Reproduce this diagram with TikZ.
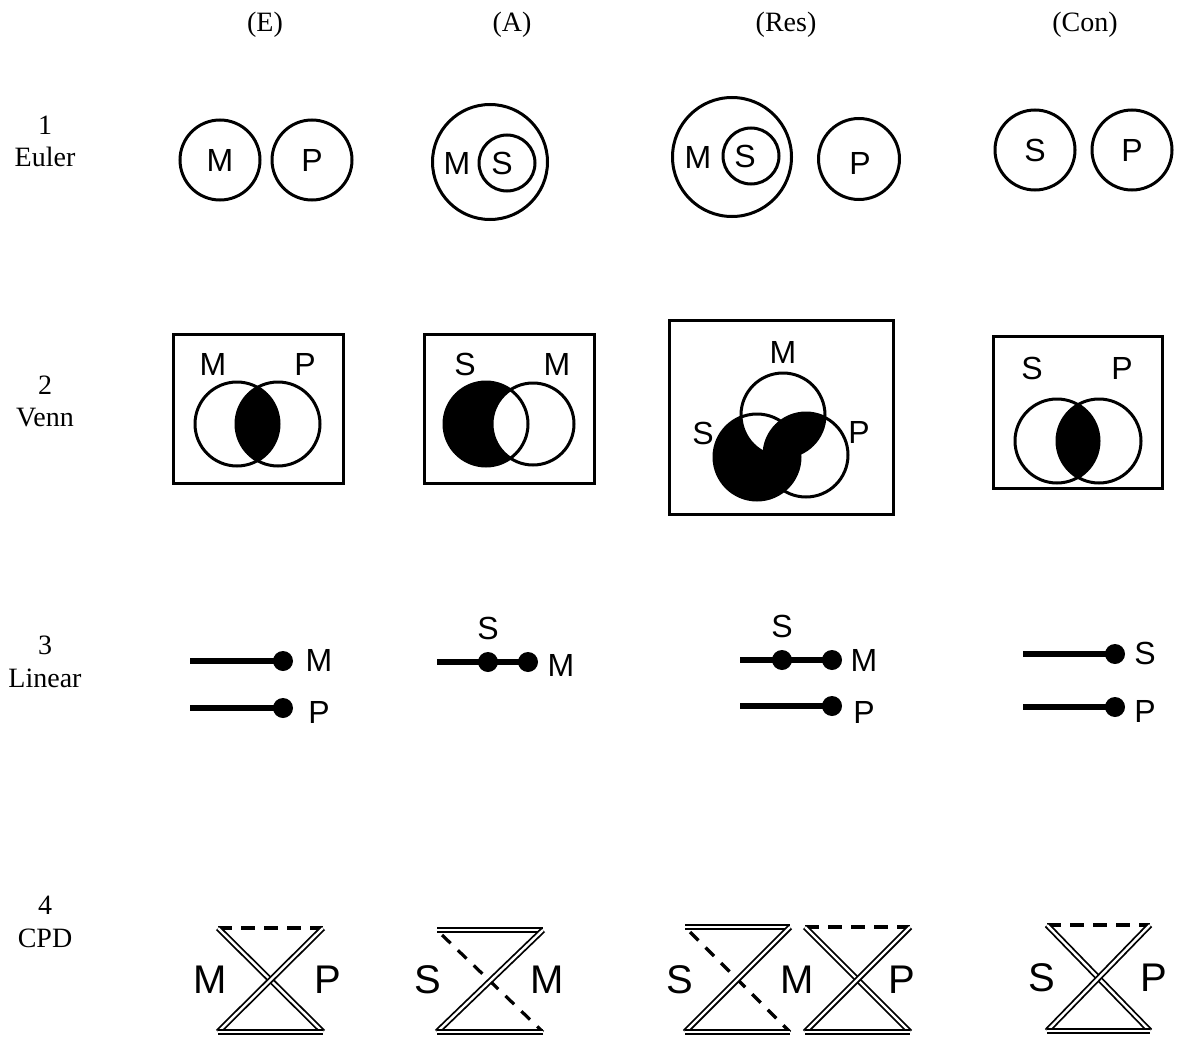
\documentclass[tikz,border=0pt]{standalone}
\usepackage{fontspec}
\setmainfont{Liberation Serif}
\newfontfamily\sansf{Liberation Sans}
\begin{document}
\begin{tikzpicture}[x=1pt,y=-1pt,
 lab/.style={font=\fontsize{28}{32}\selectfont, inner sep=0pt},
 lett/.style={font=\sansf\fontsize{32}{36}\selectfont, inner sep=0pt},
 bigl/.style={font=\sansf\fontsize{40}{44}\selectfont, inner sep=0pt},
 ring/.style={draw, circle, line width=3pt, inner sep=0pt},
 vbox/.style={draw, line width=3pt, inner sep=0pt},
 bar/.style={line width=5.5pt},
 bdot/.style={circle, fill, inner sep=0pt, minimum size=20pt},
 dbl/.style={double, line width=1.8pt, double distance=2.4pt},
 dsh/.style={line width=3.2pt, dash pattern=on 14pt off 9pt},
 dshd/.style={line width=3.2pt, dash pattern=on 12pt off 10pt}]
\useasboundingbox[fill=white] (0,0) rectangle (1184,1041);

% headers
\node[lab] (hE) at (265,25) {(E)};
\node[lab] (hA) at (512,25) {(A)};
\node[lab] (hR) at (786,25) {(Res)};
\node[lab] (hC) at (1085,25) {(Con)};
% row labels
\node[lab] (r1n) at (45,125) {1};
\node[lab] (r1t) at (45,157) {Euler};
\node[lab] (r2n) at (45,385) {2};
\node[lab] (r2t) at (45,418) {Venn};
\node[lab] (r3n) at (45,645) {3};
\node[lab] (r3t) at (45,678) {Linear};
\node[lab] (r4n) at (45,905) {4};
\node[lab] (r4t) at (45,938) {CPD};

% ===== Row 1: Euler =====
\node[ring, lett, minimum size=80pt] (eEM) at (220,160) {M};
\node[ring, lett, minimum size=80pt] (eEP) at (312,160) {P};

\node[ring, minimum size=115pt] (eAM) at (490,162) {};
\node[ring, minimum size=56pt] (eAS) at (507,163) {};
\node[lett] (eAMl) at (457,163) {M};
\node[lett] (eASl) at (502,163) {S};

\node[ring, minimum size=119pt] (eRM) at (732,157) {};
\node[ring, minimum size=56pt] (eRS) at (751,156) {};
\node[lett] (eRMl) at (698,157) {M};
\node[lett] (eRSl) at (745,156) {S};
\node[ring, minimum size=81pt] (eRP) at (859,159) {};
\node[lett] (eRPl) at (860,163) {P};

\node[ring, lett, minimum size=80pt] (eCS) at (1035,150) {S};
\node[ring, lett, minimum size=80pt] (eCP) at (1132,150) {P};

% ===== Row 2: Venn =====
% (E)
\node[vbox, minimum width=170pt, minimum height=149pt] (vEbox) at (258,408.5) {};
\begin{scope}
 \clip (237,424) circle[radius=42pt];
 \fill (278,424) circle[radius=42pt];
\end{scope}
\node[ring, minimum size=84pt] (vEM) at (237,424) {};
\node[ring, minimum size=84pt] (vEP) at (278,424) {};
\node[lett] (vEMl) at (213,364) {M};
\node[lett] (vEPl) at (305,364) {P};
% (A)
\node[vbox, minimum width=170pt, minimum height=149pt] (vAbox) at (509,408.5) {};
\fill (486,424) circle[radius=42pt];
\begin{scope}
 \clip (486,424) circle[radius=42pt];
 \fill[white] (533,424) circle[radius=41pt];
\end{scope}
\node[ring, minimum size=84pt] (vAS) at (486,424) {};
\node[ring, minimum size=82pt] (vAM) at (533,424) {};
\node[lett] (vASl) at (465,364) {S};
\node[lett] (vAMl) at (557,364) {M};
% (Res)
\node[vbox, minimum width=224pt, minimum height=194pt] (vRbox) at (781,417) {};
\fill (757,457) circle[radius=43pt];
\begin{scope}
 \clip (757,457) circle[radius=43pt];
 \fill[white] (783,415) circle[radius=42pt];
\end{scope}
\begin{scope}
 \clip (783,415) circle[radius=42pt];
 \fill (806,455) circle[radius=42pt];
\end{scope}
\node[ring, minimum size=84pt] (vRM) at (783,415) {};
\node[ring, minimum size=86pt] (vRS) at (757,457) {};
\node[ring, minimum size=84pt] (vRP) at (806,455) {};
\node[lett] (vRMl) at (783,352) {M};
\node[lett] (vRSl) at (703,433) {S};
\node[lett] (vRPl) at (859,432) {P};
% (Con)
\node[vbox, minimum width=169pt, minimum height=152pt] (vCbox) at (1077.5,412) {};
\begin{scope}
 \clip (1057,441) circle[radius=42pt];
 \fill (1099,441) circle[radius=42pt];
\end{scope}
\node[ring, minimum size=84pt] (vCS) at (1057,441) {};
\node[ring, minimum size=84pt] (vCP) at (1099,441) {};
\node[lett] (vCSl) at (1032,368) {S};
\node[lett] (vCPl) at (1122,368) {P};

% ===== Row 3: Linear =====
% (E)
\coordinate (lE1s) at (190,661);
\node[bdot] (lE1d) at (283,661) {};
\draw[bar] (lE1s) -- (lE1d.center);
\node[lett] (lEM) at (319,660) {M};
\coordinate (lE2s) at (190,708);
\node[bdot] (lE2d) at (283,708) {};
\draw[bar] (lE2s) -- (lE2d.center);
\node[lett] (lEP) at (319,712) {P};
% (A)
\coordinate (lAs) at (437,662);
\node[bdot] (lAd1) at (488,662) {};
\node[bdot] (lAd2) at (528,662) {};
\draw[bar] (lAs) -- (lAd1.center) -- (lAd2.center);
\node[lett] (lAS) at (488,628) {S};
\node[lett] (lAM) at (561,665) {M};
% (Res)
\coordinate (lR1s) at (740,660);
\node[bdot] (lR1d1) at (782,660) {};
\node[bdot] (lR1d2) at (832,660) {};
\draw[bar] (lR1s) -- (lR1d1.center) -- (lR1d2.center);
\node[lett] (lRS) at (782,626) {S};
\node[lett] (lRM) at (864,660) {M};
\coordinate (lR2s) at (740,706);
\node[bdot] (lR2d) at (832,706) {};
\draw[bar] (lR2s) -- (lR2d.center);
\node[lett] (lRP) at (864,712) {P};
% (Con)
\coordinate (lC1s) at (1023,654);
\node[bdot] (lC1d) at (1115,654) {};
\draw[bar] (lC1s) -- (lC1d.center);
\node[lett] (lCS) at (1145,653) {S};
\coordinate (lC2s) at (1023,707);
\node[bdot] (lC2d) at (1115,707) {};
\draw[bar] (lC2s) -- (lC2d.center);
\node[lett] (lCP) at (1145,711) {P};

% ===== Row 4: CPD =====
% (E)
\coordinate (cEtl) at (218,928); \coordinate (cEtr) at (323,928);
\coordinate (cEbl) at (218,1032); \coordinate (cEbr) at (323,1032);
\draw[dsh] (cEtl) -- (cEtr);
\draw[dbl] (cEtl) -- (cEbr);
\draw[dbl] (cEtr) -- (cEbl);
\draw[dbl] (cEbl) -- (cEbr);
\node[bigl] (cEM) at (210,980) {M};
\node[bigl] (cEP) at (328,980) {P};
% (A)
\coordinate (cAtl) at (437,930); \coordinate (cAtr) at (543,930);
\coordinate (cAbl) at (437,1032); \coordinate (cAbr) at (543,1032);
\coordinate (cAds) at (442,935);
\draw[dshd] (cAds) -- (cAbr);
\draw[dbl] (cAtl) -- (cAtr);
\draw[dbl] (cAtr) -- (cAbl);
\draw[dbl] (cAbl) -- (cAbr);
\node[bigl] (cAS) at (428,980) {S};
\node[bigl] (cAM) at (547,980) {M};
% (Res) left
\coordinate (cR1tl) at (685,927); \coordinate (cR1tr) at (790,927);
\coordinate (cR1bl) at (685,1032); \coordinate (cR1br) at (790,1032);
\coordinate (cR1ds) at (690,932);
\draw[dshd] (cR1ds) -- (cR1br);
\draw[dbl] (cR1tl) -- (cR1tr);
\draw[dbl] (cR1tr) -- (cR1bl);
\draw[dbl] (cR1bl) -- (cR1br);
% (Res) right
\coordinate (cR2tl) at (805,927); \coordinate (cR2tr) at (910,927);
\coordinate (cR2bl) at (805,1032); \coordinate (cR2br) at (910,1032);
\draw[dsh] (cR2tl) -- (cR2tr);
\draw[dbl] (cR2tl) -- (cR2br);
\draw[dbl] (cR2tr) -- (cR2bl);
\draw[dbl] (cR2bl) -- (cR2br);
\node[bigl] (cRS) at (680,980) {S};
\node[bigl] (cRM) at (797,980) {M};
\node[bigl] (cRP) at (902,980) {P};
% (Con)
\coordinate (cCtl) at (1047,925); \coordinate (cCtr) at (1150,925);
\coordinate (cCbl) at (1047,1031); \coordinate (cCbr) at (1150,1031);
\draw[dsh] (cCtl) -- (cCtr);
\draw[dbl] (cCtl) -- (cCbr);
\draw[dbl] (cCtr) -- (cCbl);
\draw[dbl] (cCbl) -- (cCbr);
\node[bigl] (cCS) at (1042,978) {S};
\node[bigl] (cCP) at (1154,978) {P};
\end{tikzpicture}
\end{document}
